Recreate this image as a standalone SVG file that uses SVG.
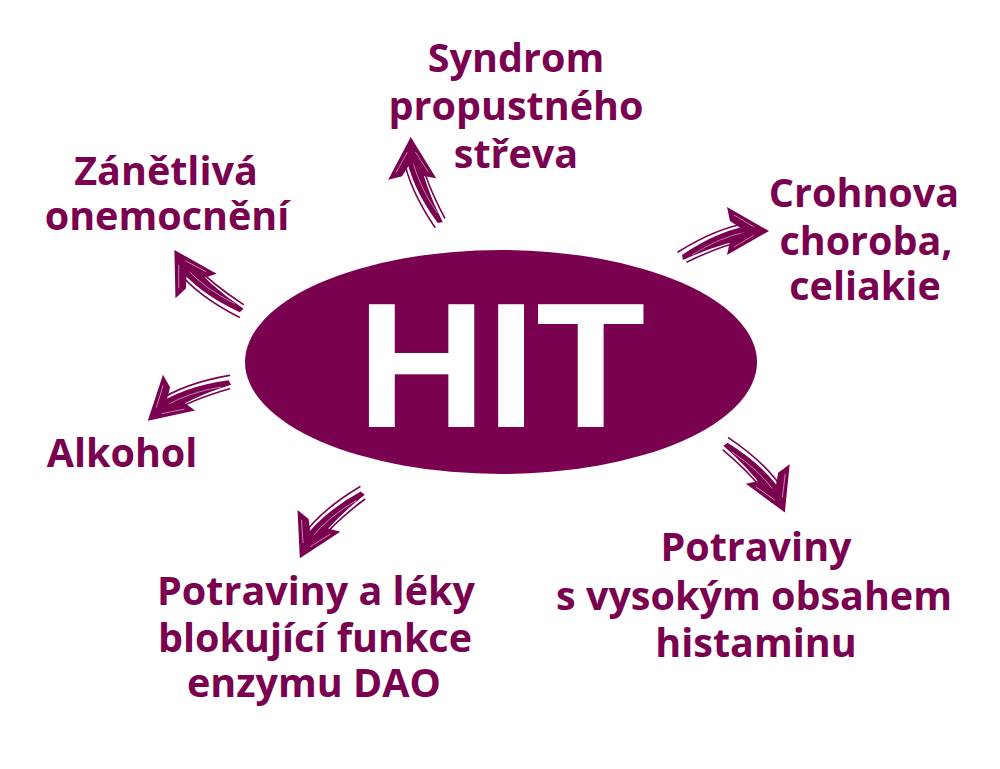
<svg xmlns="http://www.w3.org/2000/svg" width="1000" height="769" viewBox="0 0 1000 769">
  <style>
    .lbl { font-family: "Open Sans", "Liberation Sans", sans-serif; font-weight: 700; font-size: 39.5px; fill: #7a0050; text-anchor: middle; }
    .hit { font-family: "Liberation Sans", Arial, sans-serif; font-weight: 700; font-size: 179px; fill: #ffffff; }
    .ink { fill: #7a0050; }
    .streak { fill: none; stroke: #ffffff; stroke-width: 0.8; stroke-opacity: 0.6; }
    .hair { fill: none; stroke: #7a0050; stroke-width: 1.6; stroke-linecap: round; }
  </style>
  <defs>
    <g id="brush">
      <path class="ink" d="M -80 24 Q -42 -2 -6 -6.5 L -6 6.5 Q -40 11 -79 29 Z"/>
      <path class="hair" d="M -84 21 Q -44 -4 -12 -8"/>
      <path class="hair" d="M -75 31 Q -40 14 -14 9"/>
      <path class="streak" d="M -70 24 Q -42 6 -16 1"/>
      <path class="ink" d="M 7 0 L -35 -24 L -32 -10 L -17 0 L -32 10 L -35 24 Z"/>
      <path class="streak" d="M -8 -4 L -28 -16"/>
      <path class="streak" d="M -8 4 L -28 16"/>
    </g>
  </defs>
  <rect width="1000" height="769" fill="#ffffff"/>

  <g id="node-hit">
    <ellipse cx="501" cy="362" rx="256" ry="112" fill="#7a0050"/>
    <text class="hit" x="357" y="427">HIT</text>
  </g>

  <g id="node-syndrom">
    <text class="lbl" x="516" y="72">Syndrom</text>
    <text class="lbl" x="516" y="120">propustného</text>
    <text class="lbl" x="516" y="168">střeva</text>
  </g>

  <g id="node-zanetliva">
    <text class="lbl" x="166" y="185">Zánětlivá</text>
    <text class="lbl" x="167" y="230">onemocnění</text>
  </g>

  <g id="node-crohn">
    <text class="lbl" x="864" y="207">Crohnova</text>
    <text class="lbl" x="866" y="255">choroba,</text>
    <text class="lbl" x="865" y="300">celiakie</text>
  </g>

  <g id="node-alkohol">
    <text class="lbl" x="122" y="467">Alkohol</text>
  </g>

  <g id="node-dao">
    <text class="lbl" x="316" y="605">Potraviny a léky</text>
    <text class="lbl" x="315" y="652">blokující funkce</text>
    <text class="lbl" x="314" y="697">enzymu DAO</text>
  </g>

  <g id="node-potraviny">
    <text class="lbl" x="756" y="561">Potraviny</text>
    <text class="lbl" x="754" y="610">s vysokým obsahem</text>
    <text class="lbl" x="756" y="657">histaminu</text>
  </g>

  <g id="connectors">
    <use href="#brush" transform="translate(411,144) rotate(-92)"/>
    <use href="#brush" transform="translate(762,231) rotate(0)"/>
    <use href="#brush" transform="translate(178,256) rotate(-121)"/>
    <use href="#brush" transform="translate(153,416) rotate(138) scale(1,-1)"/>
    <use href="#brush" transform="translate(303,552) rotate(117) scale(1,-1)"/>
    <use href="#brush" transform="translate(782,506) rotate(66)"/>
  </g>
</svg>
